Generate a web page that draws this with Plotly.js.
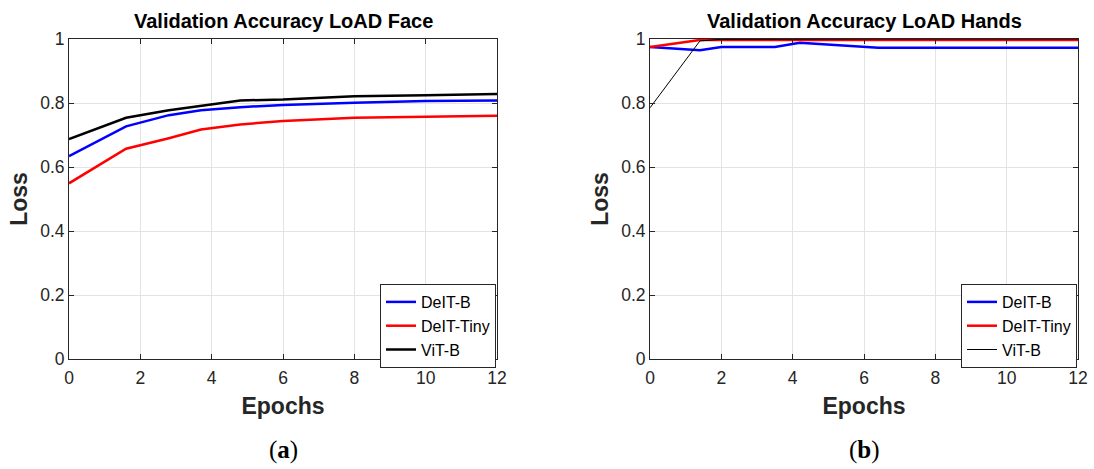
<!DOCTYPE html>
<html>
<head>
<meta charset="utf-8">
<script src="https://cdn.plot.ly/plotly-3.0.1.min.js"></script>
<style>html,body{margin:0;padding:0;background:#fff;}#chart{width:1094px;height:469px;}</style>
</head>
<body>
<div id="chart"></div>
<script>
// ---- data ----
const epochsFace = [0, 1.6, 2.8, 3.7, 4.8, 6, 8, 10, 12];
const deitBFace = [0.634, 0.727, 0.762, 0.777, 0.787, 0.794, 0.801, 0.806, 0.808];
const deitTinyFace = [0.549, 0.657, 0.690, 0.717, 0.733, 0.744, 0.754, 0.758, 0.760];
const vitBFace = [0.687, 0.754, 0.777, 0.790, 0.808, 0.811, 0.821, 0.824, 0.828];

const epochsHands = [0, 1.4, 2, 3.5, 4.2, 5.7, 6.4, 8, 10, 12];
const deitBHands = [0.975, 0.965, 0.975, 0.975, 0.988, 0.977, 0.973, 0.973, 0.973, 0.973];
const deitTinyHands = [0.975, 0.997, 0.997, 0.997, 0.997, 0.997, 0.997, 0.997, 0.997, 0.997];
const vitBHands = [0.785, 0.994, 0.999, 1.0, 1.0, 1.0, 1.0, 1.0, 1.0, 1.0];

const seriesNames = ['DeIT-B', 'DeIT-Tiny', 'ViT-B'];
const titles = ['Validation Accuracy LoAD Face', 'Validation Accuracy LoAD Hands'];
const captions = ['(<b>a</b>)', '(<b>b</b>)'];
const xTickVals = [0, 2, 4, 6, 8, 10, 12];
const yTickVals = [0, 0.2, 0.4, 0.6, 0.8, 1];

const FONT = 'Liberation Sans, Arial, Helvetica, sans-serif';
const colors = ['#0000ff', '#ff0000', '#000000'];

const traces = [
  {x: epochsFace, y: deitBFace, name: seriesNames[0], xaxis: 'x', yaxis: 'y', legend: 'legend', line: {color: colors[0], width: 2.5}},
  {x: epochsFace, y: deitTinyFace, name: seriesNames[1], xaxis: 'x', yaxis: 'y', legend: 'legend', line: {color: colors[1], width: 2.5}},
  {x: epochsFace, y: vitBFace, name: seriesNames[2], xaxis: 'x', yaxis: 'y', legend: 'legend', line: {color: colors[2], width: 2.5}},
  {x: epochsHands, y: deitBHands, name: seriesNames[0], xaxis: 'x2', yaxis: 'y2', legend: 'legend2', line: {color: colors[0], width: 2.5}},
  {x: epochsHands, y: deitTinyHands, name: seriesNames[1], xaxis: 'x2', yaxis: 'y2', legend: 'legend2', line: {color: colors[1], width: 2.5}},
  {x: epochsHands, y: vitBHands, name: seriesNames[2], xaxis: 'x2', yaxis: 'y2', legend: 'legend2', line: {color: colors[2], width: 1}}
].map(t => Object.assign({type: 'scatter', mode: 'lines', showlegend: true}, t));

const W = 1094, H = 469;
function xaxisDef(domain, anchor) {
  return {
    domain: domain, anchor: anchor, range: [0, 12], tickvals: xTickVals,
    showline: true, mirror: 'ticks', linecolor: '#262626', linewidth: 1,
    ticks: 'inside', ticklen: 5, tickcolor: '#262626', ticklabelstandoff: 3,
    showgrid: true, gridcolor: '#e3e3e3', gridwidth: 1, zeroline: false,
    tickfont: {family: FONT, size: 17.5, color: '#262626'},
    title: {text: 'Epochs', font: {family: FONT, size: 23, color: '#262626', weight: 'bold'}, standoff: 10}
  };
}
function yaxisDef(domain, anchor) {
  return {
    domain: domain, anchor: anchor, range: [0, 1], tickvals: yTickVals,
    showline: true, mirror: 'ticks', linecolor: '#262626', linewidth: 1,
    ticks: 'inside', ticklen: 5, tickcolor: '#262626',
    showgrid: true, gridcolor: '#e3e3e3', gridwidth: 1, zeroline: false,
    tickfont: {family: FONT, size: 17.5, color: '#262626'},
    title: {text: 'Loss', font: {family: FONT, size: 23, color: '#262626', weight: 'bold'}, standoff: 6}
  };
}
const yDom = [(H - 359) / H, (H - 39) / H];
const x1Dom = [69 / W, 497 / W];
const x2Dom = [650 / W, 1078 / W];

function legendDef(xRight) {
  return {
    x: xRight, xanchor: 'right', y: (H - 284) / H, yanchor: 'top',
    bgcolor: '#ffffff', bordercolor: '#262626', borderwidth: 1,
    font: {family: FONT, size: 16, color: '#000'}, tracegroupgap: 0,
    itemwidth: 30
  };
}

const layout = {
  width: W, height: H,
  margin: {l: 0, r: 0, t: 0, b: 0},
  paper_bgcolor: '#ffffff', plot_bgcolor: '#ffffff',
  showlegend: true,
  xaxis: xaxisDef(x1Dom, 'y'),
  yaxis: yaxisDef(yDom, 'x'),
  xaxis2: xaxisDef(x2Dom, 'y2'),
  yaxis2: yaxisDef(yDom, 'x2'),
  legend: legendDef(496 / W),
  legend2: legendDef(1077 / W),
  annotations: [
    {text: titles[0], xref: 'paper', yref: 'paper', x: (x1Dom[0] + x1Dom[1]) / 2, y: (H - 21) / H, xanchor: 'center', yanchor: 'middle', showarrow: false, font: {family: FONT, size: 20, color: '#000', weight: 'bold'}},
    {text: titles[1], xref: 'paper', yref: 'paper', x: (x2Dom[0] + x2Dom[1]) / 2, y: (H - 21) / H, xanchor: 'center', yanchor: 'middle', showarrow: false, font: {family: FONT, size: 20, color: '#000', weight: 'bold'}},
    {text: captions[0], xref: 'paper', yref: 'paper', x: (x1Dom[0] + x1Dom[1]) / 2, y: (H - 450) / H, xanchor: 'center', yanchor: 'middle', showarrow: false, font: {family: 'Liberation Serif, DejaVu Serif, serif', size: 25, color: '#000'}},
    {text: captions[1], xref: 'paper', yref: 'paper', x: (x2Dom[0] + x2Dom[1]) / 2, y: (H - 450) / H, xanchor: 'center', yanchor: 'middle', showarrow: false, font: {family: 'Liberation Serif, DejaVu Serif, serif', size: 25, color: '#000'}}
  ]
};

Plotly.newPlot('chart', traces, layout, {displayModeBar: false, staticPlot: true});
</script>
</body>
</html>
